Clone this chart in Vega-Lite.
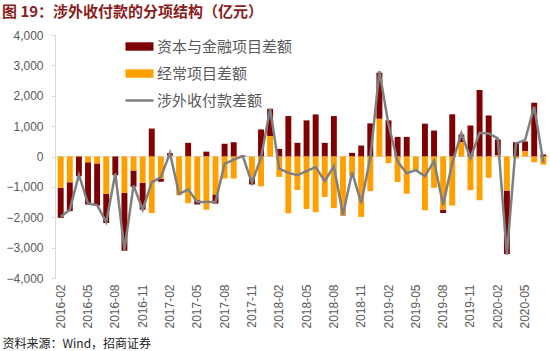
{
  "$schema": "https://vega.github.io/schema/vega-lite/v6.json",
  "width": 494,
  "height": 243,
  "autosize": {"type": "none"},
  "padding": {"left": 55, "top": 35, "right": 1, "bottom": 73},
  "background": "white",
  "config": {"view": {"stroke": null}, "font": "Liberation Sans"},
  "title": {
    "text": "图 19：涉外收付款的分项结构（亿元）",
    "anchor": "start",
    "frame": "group",
    "dx": -53,
    "offset": 9,
    "fontSize": 15,
    "fontWeight": "bold",
    "color": "#8B1C1C",
    "font": "Noto Sans CJK SC"
  },
  "data": {
    "values": [
      {"month": "2016-02", "经常项目差额": -1030, "资本与金融项目差额": -990, "涉外收付款差额": -1980},
      {"month": "2016-03", "经常项目差额": -850, "资本与金融项目差额": -950, "涉外收付款差额": -1750},
      {"month": "2016-04", "经常项目差额": 20, "资本与金融项目差额": -650, "涉外收付款差额": -600},
      {"month": "2016-05", "经常项目差额": -190, "资本与金融项目差额": -1390, "涉外收付款差额": -1550},
      {"month": "2016-06", "经常项目差额": -230, "资本与金融项目差额": -1390, "涉外收付款差额": -1600},
      {"month": "2016-07", "经常项目差额": -1230, "资本与金融项目差额": -960, "涉外收付款差额": -2160},
      {"month": "2016-08", "经常项目差额": 0, "资本与金融项目差额": -615, "涉外收付款差额": -560},
      {"month": "2016-09", "经常项目差额": -1200, "资本与金融项目差额": -1900, "涉外收付款差额": -3070},
      {"month": "2016-10", "经常项目差额": -460, "资本与金融项目差额": -540, "涉外收付款差额": -950},
      {"month": "2016-11", "经常项目差额": -870, "资本与金融项目差额": -880, "涉外收付款差额": -1750},
      {"month": "2016-12", "经常项目差额": -1860, "资本与金融项目差额": 920, "涉外收付款差额": -850},
      {"month": "2017-01", "经常项目差额": -740, "资本与金融项目差额": -90, "涉外收付款差额": -680},
      {"month": "2017-02", "经常项目差额": 30, "资本与金融项目差额": 80, "涉外收付款差额": 110},
      {"month": "2017-03", "经常项目差额": -1270, "资本与金融项目差额": 0, "涉外收付款差额": -1230},
      {"month": "2017-04", "经常项目差额": -1540, "资本与金融项目差额": 450, "涉外收付款差额": -1090},
      {"month": "2017-05", "经常项目差额": -1440, "资本与金融项目差额": -140, "涉外收付款差额": -1500},
      {"month": "2017-06", "经常项目差额": -1750, "资本与金融项目差额": 160, "涉外收付款差额": -1500},
      {"month": "2017-07", "经常项目差额": -1250, "资本与金融项目差额": -300, "涉外收付款差额": -1500},
      {"month": "2017-08", "经常项目差额": -725, "资本与金融项目差额": 420, "涉外收付款差额": -240},
      {"month": "2017-09", "经常项目差额": -725, "资本与金融项目差额": 470, "涉外收付款差额": -100},
      {"month": "2017-10", "经常项目差额": -20, "资本与金融项目差额": 30, "涉外收付款差额": 10},
      {"month": "2017-11", "经常项目差额": -700, "资本与金融项目差额": -220, "涉外收付款差额": -870},
      {"month": "2017-12", "经常项目差额": -980, "资本与金融项目差额": 890, "涉外收付款差额": -40},
      {"month": "2018-01", "经常项目差额": 670, "资本与金融项目差额": 900, "涉外收付款差额": 1570},
      {"month": "2018-02", "经常项目差额": -670, "资本与金融项目差额": 250, "涉外收付款差额": -400},
      {"month": "2018-03", "经常项目差额": -1870, "资本与金融项目差额": 1330, "涉外收付款差额": -540},
      {"month": "2018-04", "经常项目差额": -1100, "资本与金融项目差额": 450, "涉外收付款差额": -615},
      {"month": "2018-05", "经常项目差额": -1725, "资本与金融项目差额": 1190, "涉外收付款差额": -480},
      {"month": "2018-06", "经常项目差额": -1835, "资本与金融项目差额": 1385, "涉外收付款差额": -350},
      {"month": "2018-07", "经常项目差额": -1330, "资本与金融项目差额": 450, "涉外收付款差额": -810},
      {"month": "2018-08", "经常项目差额": -1700, "资本与金融项目差额": 1330, "涉外收付款差额": -320},
      {"month": "2018-09", "经常项目差额": -1920, "资本与金融项目差额": -20, "涉外收付款差额": -1920},
      {"month": "2018-10", "经常项目差额": -640, "资本与金融项目差额": 120, "涉外收付款差额": -520},
      {"month": "2018-11", "经常项目差额": -1990, "资本与金融项目差额": 360, "涉外收付款差额": -1530},
      {"month": "2018-12", "经常项目差额": -1140, "资本与金融项目差额": 1090, "涉外收付款差额": -50},
      {"month": "2019-01", "经常项目差额": 1240, "资本与金融项目差额": 1520, "涉外收付款差额": 2810},
      {"month": "2019-02", "经常项目差额": -220, "资本与金融项目差额": 1190, "涉外收付款差额": 1050},
      {"month": "2019-03", "经常项目差额": -840, "资本与金融项目差额": 645, "涉外收付款差额": -170},
      {"month": "2019-04", "经常项目差额": -1225, "资本与金融项目差额": 645, "涉外收付款差额": -550},
      {"month": "2019-05", "经常项目差额": -450, "资本与金融项目差额": 0, "涉外收付款差额": -450},
      {"month": "2019-06", "经常项目差额": -1770, "资本与金融项目差额": 1080, "涉外收付款差额": -650},
      {"month": "2019-07", "经常项目差额": -1030, "资本与金融项目差额": 855, "涉外收付款差额": -150},
      {"month": "2019-08", "经常项目差额": -1750, "资本与金融项目差额": -110, "涉外收付款差额": -1600},
      {"month": "2019-09", "经常项目差额": -1615, "资本与金融项目差额": 1390, "涉外收付款差额": -220},
      {"month": "2019-10", "经常项目差额": 470, "资本与金融项目差额": 255, "涉外收付款差额": 760},
      {"month": "2019-11", "经常项目差额": -1110, "资本与金融项目差额": 1020, "涉外收付款差额": -50},
      {"month": "2019-12", "经常项目差额": -1440, "资本与金融项目差额": 2190, "涉外收付款差额": 780},
      {"month": "2020-01", "经常项目差额": -700, "资本与金融项目差额": 1350, "涉外收付款差额": 760},
      {"month": "2020-02", "经常项目差额": 40, "资本与金融项目差额": 520, "涉外收付款差额": 600},
      {"month": "2020-03", "经常项目差额": -1120, "资本与金融项目差额": -2090, "涉外收付款差额": -3230},
      {"month": "2020-04", "经常项目差额": -60, "资本与金融项目差额": 470, "涉外收付款差额": 430},
      {"month": "2020-05", "经常项目差额": 175, "资本与金融项目差额": 320, "涉外收付款差额": 540},
      {"month": "2020-06", "经常项目差额": -190, "资本与金融项目差额": 1770, "涉外收付款差额": 1640},
      {"month": "2020-07", "经常项目差额": -265, "资本与金融项目差额": 65, "涉外收付款差额": -190}
    ]
  },
  "encoding": {
    "y": {
      "type": "quantitative",
      "scale": {"domain": [-4000, 4000], "nice": false},
      "axis": {
        "title": null,
        "values": [-4000, -3000, -2000, -1000, 0, 1000, 2000, 3000, 4000],
        "format": ",.0f",
        "labelOverlap": false,
        "grid": false,
        "domainColor": "#D9D9D9",
        "tickColor": "#D9D9D9",
        "tickSize": 4,
        "labelPadding": 8,
        "labelFontSize": 12,
        "labelColor": "#595959",
        "labelFont": "Liberation Sans"
      }
    }
  },
  "layer": [
    {
      "mark": {"type": "rule", "color": "#D9D9D9", "strokeWidth": 1},
      "encoding": {"y": {"datum": 0, "type": "quantitative"}}
    },
    {
      "transform": [{"fold": ["资本与金融项目差额", "经常项目差额"], "as": ["series", "value"]}],
      "mark": {"type": "bar"},
      "encoding": {
        "x": {
          "field": "month",
          "type": "ordinal",
          "scale": {"paddingInner": 0.35, "paddingOuter": 0.3},
          "axis": {
            "values": ["2016-02", "2016-05", "2016-08", "2016-11", "2017-02", "2017-05", "2017-08", "2017-11", "2018-02", "2018-05", "2018-08", "2018-11", "2019-02", "2019-05", "2019-08", "2019-11", "2020-02", "2020-05"],
            "labelAngle": -90,
            "labelPadding": 6,
            "labelFontSize": 12,
            "labelColor": "#595959",
            "labelFont": "Liberation Sans",
            "domain": false,
            "ticks": false,
            "title": "资料来源：Wind，招商证券",
            "titleFont": "Noto Sans CJK SC",
            "titleFontSize": 12,
            "titleFontWeight": "normal",
            "titleColor": "#222222",
            "titleAnchor": "start",
            "titleAlign": "left",
            "titleBaseline": "middle",
            "titleX": -53,
            "titleY": 65
          }
        },
        "y": {"field": "value", "stack": "zero"},
        "color": {
          "field": "series",
          "type": "nominal",
          "scale": {
            "domain": ["资本与金融项目差额", "经常项目差额", "涉外收付款差额"],
            "range": ["#7F0000", "#FFA000", "#7F7F7F"]
          },
          "legend": {
            "title": null,
            "orient": "none",
            "legendX": 77,
            "legendY": 4,
            "padding": 0,
            "rowPadding": 11,
            "symbolSize": 784,
            "symbolType": "M-1,-0.3H1V0.3H-1Z",
            "labelFontSize": 15,
            "labelFont": "Noto Sans CJK SC",
            "labelColor": "#595959",
            "labelOffset": 10,
            "labelLimit": 300,
            "encode": {
              "symbols": {
                "update": {
                  "shape": {"signal": "datum.value === '涉外收付款差额' ? 'stroke' : 'M-1,-0.3H1V0.3H-1Z'"},
                  "fill": {"signal": "datum.value === '涉外收付款差额' ? 'transparent' : scale('color', datum.value)"},
                  "stroke": {"signal": "scale('color', datum.value)"},
                  "strokeWidth": {"signal": "datum.value === '涉外收付款差额' ? 2.5 : 0"},
                  "opacity": {"value": 1}
                }
              }
            }
          }
        },
        "order": {"field": "series", "sort": "ascending"}
      }
    },
    {
      "mark": {"type": "line", "strokeWidth": 2.5},
      "encoding": {
        "x": {"field": "month", "type": "ordinal"},
        "y": {"field": "涉外收付款差额"},
        "color": {"datum": "涉外收付款差额"}
      }
    }
  ]
}
